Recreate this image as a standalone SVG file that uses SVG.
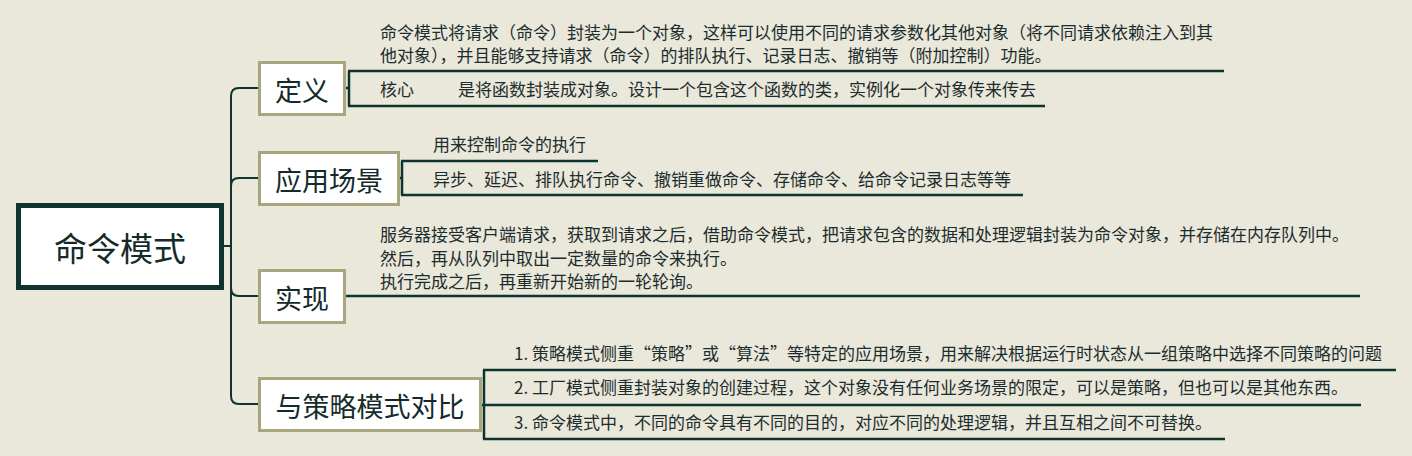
<svg xmlns="http://www.w3.org/2000/svg" width="1412" height="456" viewBox="0 0 1412 456">
<style>
.bg{fill:#EAE7DB}
.root{fill:#FFFFFF;stroke:#0F3430;stroke-width:5}
.box{fill:#FFFFFF;stroke:#A9A67F;stroke-width:3}
.lbl{font-family:"Noto Sans CJK SC","Microsoft YaHei",sans-serif;fill:#142B2A;text-anchor:middle;dominant-baseline:central}
.sub{font-family:"Noto Sans CJK SC","Microsoft YaHei",sans-serif;fill:#1C2D2D;font-size:17px}
.ln{fill:none;stroke:#0F3430;stroke-width:2.5;stroke-linecap:butt}
.tr{fill:none;stroke:#0F3430;stroke-width:2}
</style>
<rect class="bg" x="0" y="0" width="1412" height="456"/>
<g id="connectors">
<path class="tr" d="M224,246 H231"/>
<path class="tr" d="M258,88 H239 Q231,88 231,96 V396 Q231,404 239,404 H258"/>
<path class="tr" d="M231,186 Q231,178 239,178 H258"/>
<path class="tr" d="M231,288 Q231,296 239,296 H258"/>
<path class="ln" d="M346,88 H349 M349,71 V106 M348,71 H1224 M348,106 H1045"/>
<path class="ln" d="M400,178 H402 M402,161 V195 M401,161 H598 M401,195 H1023"/>
<path class="ln" d="M346,296 H1360"/>
<path class="ln" d="M482,405 H484 M484,370 V439 M483,370 H1396 M483,405 H1361 M483,439 H1225"/>
</g>
<g id="root">
<rect class="root" x="18.5" y="205.5" width="203" height="82"/>
<text class="lbl" x="120" y="247" font-size="33">命令模式</text>
</g>
<g id="node-dingyi">
<rect class="box" x="259.5" y="62.5" width="85" height="52"/>
<text class="lbl" x="302" y="89" font-size="27">定义</text>
</g>
<g id="node-yingyong">
<rect class="box" x="259.5" y="152.5" width="139" height="52"/>
<text class="lbl" x="329" y="179" font-size="27">应用场景</text>
</g>
<g id="node-shixian">
<rect class="box" x="259.5" y="270.5" width="85" height="52"/>
<text class="lbl" x="302" y="297" font-size="27">实现</text>
</g>
<g id="node-duibi">
<rect class="box" x="259.5" y="378.5" width="221" height="52"/>
<text class="lbl" x="370" y="405" font-size="27">与策略模式对比</text>
</g>
<g id="sub-dingyi-1">
<text class="sub" x="380" y="38.5">命令模式将请求（命令）封装为一个对象，这样可以使用不同的请求参数化其他对象（将不同请求依赖注入到其</text>
<text class="sub" x="380" y="62">他对象），并且能够支持请求（命令）的排队执行、记录日志、撤销等（附加控制）功能。</text>
</g>
<g id="sub-dingyi-2">
<text class="sub" y="95.5"><tspan x="380">核心</tspan><tspan x="458">是将函数封装成对象。设计一个包含这个函数的类，实例化一个对象传来传去</tspan></text>
</g>
<g id="sub-yingyong-1">
<text class="sub" x="433" y="150.5">用来控制命令的执行</text>
</g>
<g id="sub-yingyong-2">
<text class="sub" x="433" y="186">异步、延迟、排队执行命令、撤销重做命令、存储命令、给命令记录日志等等</text>
</g>
<g id="sub-shixian">
<text class="sub" x="380" y="241">服务器接受客户端请求，获取到请求之后，借助命令模式，把请求包含的数据和处理逻辑封装为命令对象，并存储在内存队列中。</text>
<text class="sub" x="380" y="264.5">然后，再从队列中取出一定数量的命令来执行。</text>
<text class="sub" x="380" y="288">执行完成之后，再重新开始新的一轮轮询。</text>
</g>
<g id="sub-duibi-1">
<text class="sub" x="514" y="360">1. 策略模式侧重“策略”或“算法”等特定的应用场景，用来解决根据运行时状态从一组策略中选择不同策略的问题</text>
</g>
<g id="sub-duibi-2">
<text class="sub" x="514" y="394">2. 工厂模式侧重封装对象的创建过程，这个对象没有任何业务场景的限定，可以是策略，但也可以是其他东西。</text>
</g>
<g id="sub-duibi-3">
<text class="sub" x="514" y="429">3. 命令模式中，不同的命令具有不同的目的，对应不同的处理逻辑，并且互相之间不可替换。</text>
</g>
</svg>
